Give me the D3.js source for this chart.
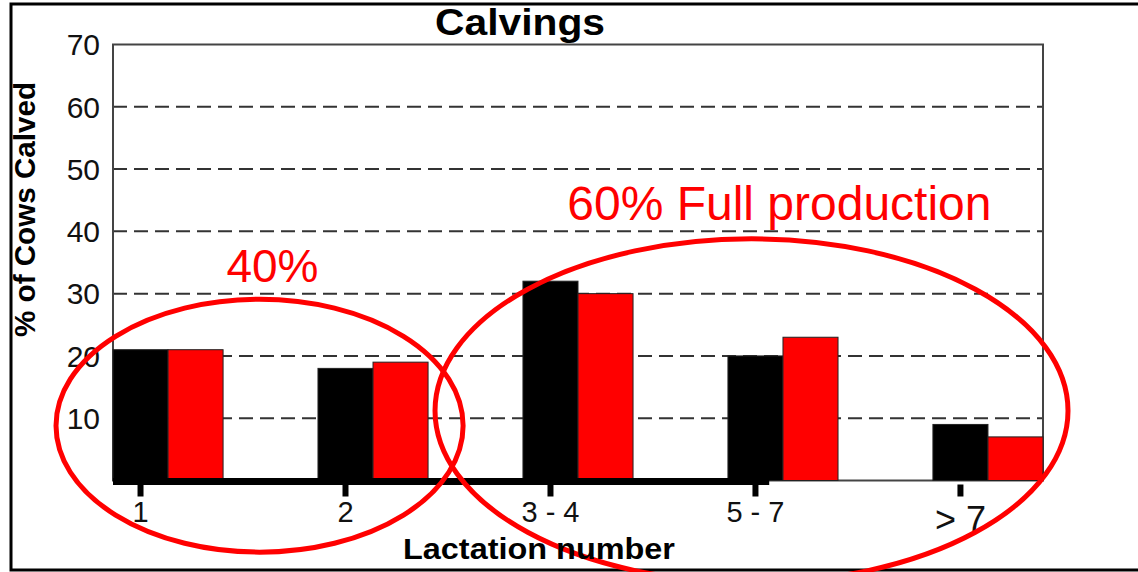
<!DOCTYPE html>
<html>
<head>
<meta charset="utf-8">
<script src="https://cdn.jsdelivr.net/npm/d3@7"></script>
<style>
  html, body { margin: 0; padding: 0; background: #fff; }
  svg { display: block; font-family: "Liberation Sans", Arial, sans-serif; }
</style>
</head>
<body>
<svg id="chart" width="1138" height="572"></svg>
<script>
// Data
const categories = ["1", "2", "3 - 4", "5 - 7", "> 7"];
const series = ["black", "red"];
const blackValues = [21, 18, 32, 20, 9];
const redValues = [21, 19, 30, 23, 7];
const yTicks = [10, 20, 30, 40, 50, 60, 70];

const colors = { black: "#000000", red: "#ff0000" };

const svg = d3.select("#chart");
const margin = { top: 44.5, right: 95, bottom: 91.5, left: 113 };
const width = 1138 - margin.left - margin.right;
const height = 572 - margin.top - margin.bottom;

// outer frame (left, top, bottom only)
svg.append("path")
  .attr("d", "M1138,4H11V570H1138")
  .attr("fill", "none")
  .attr("stroke", "#000")
  .attr("stroke-width", 3);

const g = svg.append("g").attr("transform", `translate(${margin.left},${margin.top})`);

const x = d3.scaleBand()
  .domain(categories)
  .range([0, width])
  .paddingInner(0.463)
  .paddingOuter(0)
  .align(0);

const xSub = d3.scaleBand()
  .domain(series)
  .range([0, x.bandwidth()]);

const y = d3.scaleLinear()
  .domain([0, 70])
  .range([height, 0]);

// dashed grid lines
g.append("g")
  .selectAll("line")
  .data(yTicks.filter(d => d < 70))
  .join("line")
  .attr("x1", 0)
  .attr("x2", width)
  .attr("y1", d => y(d))
  .attr("y2", d => y(d))
  .attr("stroke", "#333")
  .attr("stroke-width", 2)
  .attr("stroke-dasharray", "14,7");

// plot frame
g.append("rect")
  .attr("x", 0)
  .attr("y", 0)
  .attr("width", width)
  .attr("height", height)
  .attr("fill", "none")
  .attr("stroke", "#444")
  .attr("stroke-width", 2);

// bars
const rows = categories.map((c, i) => ({ cat: c, values: [
  { key: "black", value: blackValues[i] },
  { key: "red", value: redValues[i] }
] }));

const groups = g.selectAll(".grp")
  .data(rows)
  .join("g")
  .attr("class", "grp")
  .attr("transform", d => `translate(${x(d.cat)},0)`);

groups.selectAll("rect")
  .data(d => d.values)
  .join("rect")
  .attr("x", d => xSub(d.key))
  .attr("y", d => y(d.value))
  .attr("width", xSub.bandwidth())
  .attr("height", d => y(0) - y(d.value))
  .attr("fill", d => colors[d.key])
  .attr("stroke", "#222")
  .attr("stroke-width", 1);

// thick baseline (drawn only part way, as in the original)
g.append("line")
  .attr("x1", 0)
  .attr("x2", x(categories[3]) + xSub.bandwidth() * 0.75)
  .attr("y1", y(0) + 1)
  .attr("y2", y(0) + 1)
  .attr("stroke", "#000")
  .attr("stroke-width", 7);

// x axis: ticks under the black bars
const tickX = c => x(c) + xSub("black") + xSub.bandwidth() / 2;

g.append("g")
  .selectAll("line")
  .data(categories)
  .join("line")
  .attr("x1", tickX)
  .attr("x2", tickX)
  .attr("y1", y(0) + 4)
  .attr("y2", y(0) + 16)
  .attr("stroke", "#000")
  .attr("stroke-width", 6);

g.append("g")
  .selectAll("text")
  .data(categories)
  .join("text")
  .attr("x", tickX)
  .attr("y", (d, i) => i === categories.length - 1 ? y(0) + 51 : y(0) + 41)
  .attr("text-anchor", "middle")
  .attr("font-size", (d, i) => i === categories.length - 1 ? 36 : 29)
  .attr("fill", "#111")
  .text(d => d);

// y axis labels
g.append("g")
  .selectAll("text")
  .data(yTicks)
  .join("text")
  .attr("x", -13)
  .attr("y", d => y(d))
  .attr("dy", "0.36em")
  .attr("text-anchor", "end")
  .attr("font-size", 30)
  .attr("fill", "#111")
  .text(d => d);

// titles
svg.append("text")
  .attr("x", 520)
  .attr("y", 35)
  .attr("text-anchor", "middle")
  .attr("font-size", 36)
  .attr("font-weight", "bold")
  .attr("textLength", 170)
  .attr("lengthAdjust", "spacingAndGlyphs")
  .text("Calvings");

svg.append("text")
  .attr("x", 539)
  .attr("y", 559)
  .attr("text-anchor", "middle")
  .attr("font-size", 29)
  .attr("font-weight", "bold")
  .attr("textLength", 272)
  .attr("lengthAdjust", "spacingAndGlyphs")
  .text("Lactation number");

svg.append("text")
  .attr("transform", `translate(35,${margin.top + 165}) rotate(-90)`)
  .attr("text-anchor", "middle")
  .attr("font-size", 30)
  .attr("font-weight", "bold")
  .attr("textLength", 255)
  .attr("lengthAdjust", "spacingAndGlyphs")
  .text("% of Cows Calved");

// red annotations, placed in band-step / value units
const px = t => x(categories[0]) + t * x.step();
const annotations = [
  { cx: 0.715, rx: 0.993, cy: 8.8, ry: 20.3, label: "40%", lx: 0.778, ly: 31.8, size: 46 },
  { cx: 3.115, rx: 1.544, cy: 11.2, ry: 27.6, label: "60% Full production", lx: 3.251, ly: 41.8, size: 48 }
];

const ann = g.append("g");
ann.selectAll("ellipse")
  .data(annotations)
  .join("ellipse")
  .attr("cx", d => px(d.cx))
  .attr("cy", d => y(d.cy))
  .attr("rx", d => d.rx * x.step())
  .attr("ry", d => y(0) - y(d.ry))
  .attr("fill", "none")
  .attr("stroke", "#ff0000")
  .attr("stroke-width", 5);

ann.selectAll("text")
  .data(annotations)
  .join("text")
  .attr("x", d => px(d.lx))
  .attr("y", d => y(d.ly))
  .attr("text-anchor", "middle")
  .attr("font-size", d => d.size)
  .attr("fill", "#ff0000")
  .text(d => d.label);
</script>
</body>
</html>
